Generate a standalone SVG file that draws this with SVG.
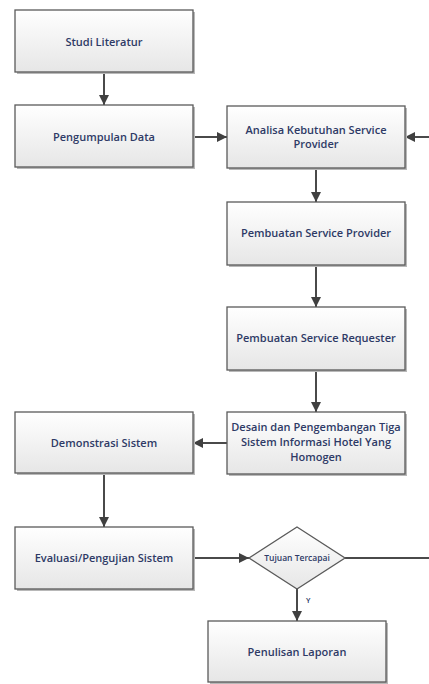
<svg xmlns="http://www.w3.org/2000/svg" width="429" height="684" viewBox="0 0 429 684">
<defs>
<linearGradient id="g" x1="0" y1="0" x2="0" y2="1">
<stop offset="0" stop-color="#ffffff"/>
<stop offset="1" stop-color="#e6e6e6"/>
</linearGradient>
<marker id="a" viewBox="0 0 10 10" refX="10" refY="5" markerWidth="10" markerHeight="10" orient="auto" markerUnits="userSpaceOnUse">
<path d="M0,0 L10,5 L0,10 z" fill="#404040"/>
</marker>
</defs>
<style>
.box{fill:url(#g);stroke:#5a5a5a;stroke-width:1.3}
.sh{fill:#b8b8b8}
.t{font-family:"Open Sans","Noto Sans",sans-serif;font-size:11px;font-weight:600;fill:#2e3a66;text-anchor:middle}
.c{fill:none;stroke:#4a4a4a;stroke-width:2}
.ca{fill:none;stroke:#4a4a4a;stroke-width:2;marker-end:url(#a)}
</style>
<rect width="429" height="684" fill="#ffffff"/>
<g id="connectors">
<path class="ca" d="M104,72 V105"/>
<path class="ca" d="M193,137 H227"/>
<path class="ca" d="M429,137 H405"/>
<path class="ca" d="M316,168 V202"/>
<path class="ca" d="M316,265 V307"/>
<path class="ca" d="M316,370 V412"/>
<path class="ca" d="M227,443 H193"/>
<path class="ca" d="M104,473 V527"/>
<path class="ca" d="M193,558 H249"/>
<path class="c" d="M345,558 H429"/>
<path class="ca" d="M297,589 V621"/>
<text x="306" y="603" style="font-family:'Open Sans',sans-serif;font-size:7.5px;font-weight:600;fill:#2e3a66">Y</text>
</g>
<g id="n1">
<rect class="sh" x="17" y="12" width="178" height="62"/>
<rect class="box" x="15" y="10" width="178" height="62"/>
<text class="t" x="104" y="46">Studi Literatur</text>
</g>
<g id="n2">
<rect class="sh" x="17" y="107" width="178" height="62"/>
<rect class="box" x="15" y="105" width="178" height="62"/>
<text class="t" x="104" y="141">Pengumpulan Data</text>
</g>
<g id="n3">
<rect class="sh" x="229" y="108" width="178" height="62"/>
<rect class="box" x="227" y="106" width="178" height="62"/>
<text class="t" x="316" y="134">Analisa Kebutuhan Service</text>
<text class="t" x="316" y="148">Provider</text>
</g>
<g id="n4">
<rect class="sh" x="229" y="204" width="178" height="63"/>
<rect class="box" x="227" y="202" width="178" height="63"/>
<text class="t" x="316" y="237">Pembuatan Service Provider</text>
</g>
<g id="n5">
<rect class="sh" x="229" y="309" width="178" height="63"/>
<rect class="box" x="227" y="307" width="178" height="63"/>
<text class="t" x="316" y="342">Pembuatan Service Requester</text>
</g>
<g id="n6">
<rect class="sh" x="229" y="414" width="178" height="62"/>
<rect class="box" x="227" y="412" width="178" height="62"/>
<text class="t" x="316" y="431">Desain dan Pengembangan Tiga</text>
<text class="t" x="316" y="446">Sistem Informasi Hotel Yang</text>
<text class="t" x="316" y="461">Homogen</text>
</g>
<g id="n7">
<rect class="sh" x="17" y="414" width="178" height="61"/>
<rect class="box" x="15" y="412" width="178" height="61"/>
<text class="t" x="104" y="447">Demonstrasi Sistem</text>
</g>
<g id="n8">
<rect class="sh" x="17" y="529" width="178" height="62"/>
<rect class="box" x="15" y="527" width="178" height="62"/>
<text class="t" x="104" y="562">Evaluasi/Pengujian Sistem</text>
</g>
<g id="n9">
<polygon points="297,527 345,558 297,589 249,558" fill="url(#g)" stroke="#5a5a5a" stroke-width="1.3"/>
<text x="297" y="561" style="font-family:'Open Sans',sans-serif;font-size:8.5px;font-weight:600;fill:#2e3a66;text-anchor:middle">Tujuan Tercapai</text>
</g>
<g id="n10">
<rect class="sh" x="210" y="623" width="178" height="61"/>
<rect class="box" x="208" y="621" width="178" height="61"/>
<text class="t" x="297" y="656">Penulisan Laporan</text>
</g>
</svg>
